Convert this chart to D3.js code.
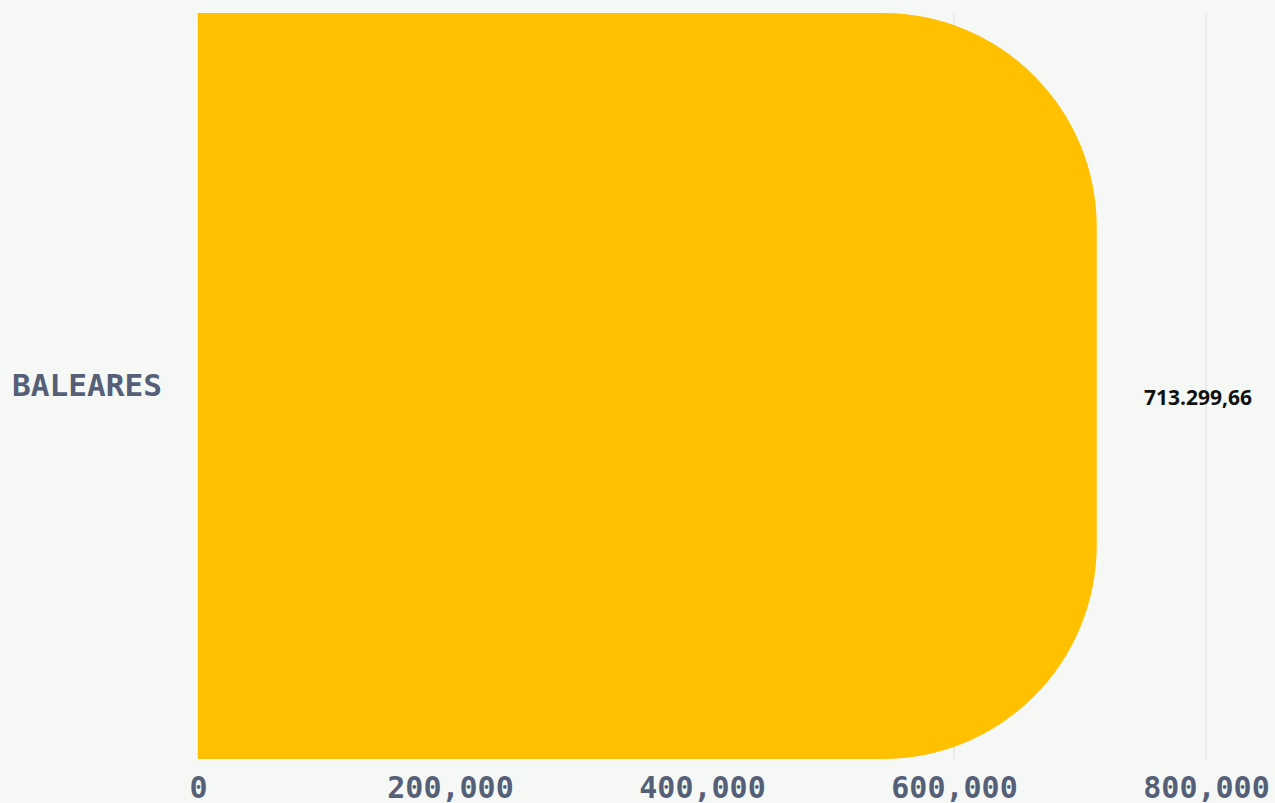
<!DOCTYPE html>
<html><head><meta charset="utf-8">
<script src="https://cdn.jsdelivr.net/npm/d3@7"></script>
<style>
html,body{margin:0;padding:0;background:#f6f8f5;}
svg{display:block;}
</style></head>
<body>
<svg id="chart" width="1275" height="803"></svg>
<script>
const categories = ["BALEARES"];
const values = [713299.66];
const valueLabels = ["713.299,66"];
const tickValues = [0, 200000, 400000, 600000, 800000];
const tickLabels = ["0", "200,000", "400,000", "600,000", "800,000"];

const W = 1275, H = 803;
const margin = {top: 13, right: 69, bottom: 44, left: 198};
const svg = d3.select("#chart");
svg.append("rect").attr("width", W).attr("height", H).attr("fill", "#f6f8f5");

const x = d3.scaleLinear().domain([0, 800000]).range([margin.left, W - margin.right]);
const y = d3.scaleBand().domain(categories).range([margin.top, H - margin.bottom]).padding(0);

// gridlines
svg.append("g").selectAll("line").data(tickValues).join("line")
  .attr("x1", d => x(d)).attr("x2", d => x(d))
  .attr("y1", margin.top).attr("y2", H - margin.bottom)
  .attr("stroke", "#dcdde0").attr("stroke-width", 1);

// bars with rounded right end
function barPath(x0, x1, y0, h, r) {
  r = Math.min(r, h / 2, x1 - x0);
  return `M${x0},${y0}H${x1 - r}A${r},${r} 0 0 1 ${x1},${y0 + r}V${y0 + h - r}A${r},${r} 0 0 1 ${x1 - r},${y0 + h}H${x0}Z`;
}
svg.append("g").selectAll("path").data(categories).join("path")
  .attr("d", (c, i) => barPath(x(0), x(values[i]), y(c), y.bandwidth(), 214))
  .attr("fill", "#ffc000");

// value labels
svg.append("g").selectAll("text").data(categories).join("text")
  .attr("x", 1198).attr("y", (c) => y(c) + y.bandwidth() / 2 + 19)
  .attr("text-anchor", "middle")
  .attr("font-family", "'Open Sans', sans-serif").attr("font-weight", 700)
  .attr("font-size", 21).attr("fill", "#111")
  .text((c, i) => valueLabels[i]);

// y axis labels
svg.append("g").selectAll("text").data(categories).join("text")
  .attr("x", 12).attr("y", c => y(c) + y.bandwidth() / 2 + 10)
  .attr("font-family", "'DejaVu Sans Mono', monospace").attr("font-weight", 700)
  .attr("font-size", 30).attr("fill", "#555f78")
  .attr("textLength", 150).attr("lengthAdjust", "spacingAndGlyphs")
  .text(c => c);

// x axis
const xAxis = d3.axisBottom(x).tickValues(tickValues)
  .tickFormat((d, i) => tickLabels[i]).tickSize(0).tickPadding(0);
const gx = svg.append("g").attr("transform", `translate(0,${H - margin.bottom})`).call(xAxis);
gx.select(".domain").remove();
gx.selectAll("text")
  .attr("dy", null).attr("y", 39)
  .attr("font-family", "'DejaVu Sans Mono', monospace").attr("font-weight", 700)
  .attr("font-size", 30).attr("fill", "#555f78");
</script>
</body></html>
